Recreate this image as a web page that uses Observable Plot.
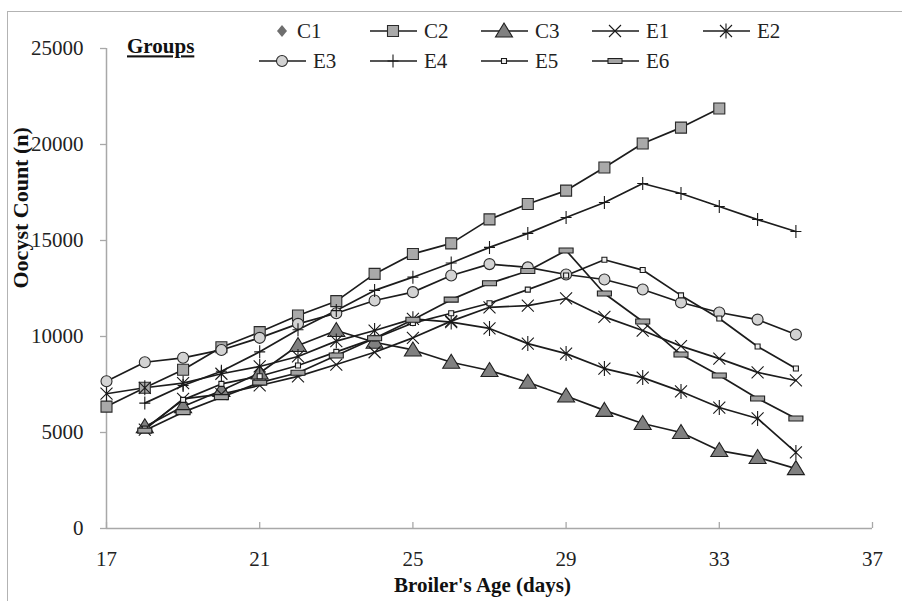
<!DOCTYPE html>
<html><head><meta charset="utf-8">
<script src="https://cdn.jsdelivr.net/npm/d3@7"></script>
<script src="https://cdn.jsdelivr.net/npm/@observablehq/plot@0.6"></script>
<style>
body{margin:0;background:#fff;}
#wrap{position:relative;width:902px;height:601px;font-family:"Liberation Serif","Times New Roman",serif;overflow:hidden;}
#border{position:absolute;left:7px;top:11px;width:1000px;height:700px;border-left:1.5px solid #b3b3b3;border-top:1.5px solid #b3b3b3;}
#chart{position:absolute;left:0;top:0;}
#legend{position:absolute;left:0;top:0;pointer-events:none;font-family:"Liberation Serif","Times New Roman",serif;}
</style></head><body>
<div id="wrap"><div id="border"></div><div id="chart"></div><svg id="legend" width="902" height="100"></svg></div>
<script>
// ---- data ----
const days   = [17,18,19,20,21,22,23,24,25,26,27,28,29,30,31,32,33,34,35];
const seriesNames = ["C1","C2","C3","E1","E2","E3","E4","E5","E6"];
const C1 = [];
const C2 = [6350,7330,8270,9440,10230,11090,11840,13260,14300,14850,16100,16900,17600,18800,20050,20880,21875,null,null];
const C3 = [null,5300,6350,7190,8100,9530,10310,9700,9300,8660,8230,7620,6900,6150,5470,5000,4060,3700,3120];
const E1 = [null,5150,6750,7000,7450,7920,8540,9180,9930,10800,11520,11610,11980,11020,10310,9500,8850,8130,7710];
const E2 = [7020,7330,7570,8060,8440,8960,9760,10310,10920,10750,10420,9630,9110,8330,7860,7140,6300,5730,3960];
const E3 = [7670,8660,8890,9300,9930,10660,11210,11875,12310,13180,13770,13600,13230,12970,12450,11770,11250,10880,10100];
const E4 = [null,6530,7450,8190,9200,10350,11350,12400,13090,13830,14640,15370,16200,16980,17970,17450,16770,16090,15470];
const E5 = [null,5200,6700,7530,7930,8490,9200,9900,10700,11210,11730,12440,13180,14000,13460,12140,10940,9480,8330];
const E6 = [null,5100,6060,6840,7600,8110,9010,9910,10870,11920,12770,13410,14480,12240,10780,9060,7970,6770,5730];
const xTicks = [17,21,25,29,33,37];
const yTicks = [0,5000,10000,15000,20000,25000];
const xTitle = "Broiler's Age (days)";
const yTitle = "Oocyst Count (n)";
const legendTitle = "Groups";

const valuesBy = {C1,C2,C3,E1,E2,E3,E4,E5,E6};
const rows = [];
for (const s of seriesNames) valuesBy[s].forEach((v,i)=>{ if (v!=null) rows.push({series:s, day:days[i], value:v}); });

// ---- marker styles ----
const sym = {
  C1:{draw(c){c.moveTo(0,-6);c.lineTo(5,0);c.lineTo(0,6);c.lineTo(-5,0);c.closePath();}},
  C2:{draw(c){c.rect(-5.5,-5.5,11,11);}},
  C3:{draw(c){c.moveTo(0,-8);c.lineTo(8.5,6);c.lineTo(-8.5,6);c.closePath();}},
  E1:{draw(c){c.moveTo(-6,-6);c.lineTo(6,6);c.moveTo(6,-6);c.lineTo(-6,6);}},
  E2:{draw(c){c.moveTo(-6,-6);c.lineTo(6,6);c.moveTo(6,-6);c.lineTo(-6,6);c.moveTo(0,-7.5);c.lineTo(0,7.5);}},
  E3:{draw(c){c.moveTo(5.5,0);c.arc(0,0,5.5,0,2*Math.PI);c.closePath();}},
  E4:{draw(c){c.moveTo(-5.5,0);c.lineTo(5.5,0);c.moveTo(0,-6.5);c.lineTo(0,6.5);}},
  E5:{draw(c){c.rect(-2.5,-2.5,5,5);}},
  E6:{draw(c){c.rect(-7,-2.5,14,5);}}
};
const fills = {C1:"#6e6e6e",C2:"#a9a9a9",C3:"#808080",E1:"none",E2:"none",E3:"#d3d3d3",E4:"none",E5:"#eeeeee",E6:"#a3a3a3"};
const strokes = {C1:"none",C2:"#2a2a2a",C3:"#1f1f1f",E1:"#1a1a1a",E2:"#1a1a1a",E3:"#2a2a2a",E4:"#1a1a1a",E5:"#1a1a1a",E6:"#1f1f1f"};
const lineColor = "#1c1c1c";
const axisColor = "#a8a8a8";

const marks = [
  Plot.ruleY([yTicks[0]], {stroke:axisColor, strokeWidth:1.5}),
  Plot.ruleX([xTicks[0]], {stroke:axisColor, strokeWidth:1.5}),
  Plot.axisY({ticks:yTicks, tickSize:6, tickPadding:17, stroke:axisColor, fill:"#222", label:null, tickFormat:d=>String(d), strokeWidth:1.3}),
  Plot.axisX({ticks:xTicks, tickSize:-6, tickPadding:29, stroke:axisColor, fill:"#222", label:null, tickFormat:d=>String(d), strokeWidth:1.3}),
];
for (const s of seriesNames) {
  const d = rows.filter(r=>r.series===s);
  if (!d.length) continue;
  marks.push(Plot.line(d, {x:"day", y:"value", stroke:lineColor, strokeWidth:1.7}));
}
for (const s of seriesNames) {
  const d = rows.filter(r=>r.series===s);
  if (!d.length) continue;
  marks.push(Plot.dot(d, {x:"day", y:"value", symbol:()=>sym[s], r:5, fill:fills[s], stroke:strokes[s], strokeWidth:1.1}));
}
marks.push(Plot.text([yTitle], {frameAnchor:"left", dx:-86, rotate:-90, fontWeight:"bold", fontSize:22, fill:"#111"}));
marks.push(Plot.text([xTitle], {frameAnchor:"bottom", dx:-7, dy:63, fontWeight:"bold", fontSize:21, fill:"#111"}));

const chart = Plot.plot({
  width:902, height:601,
  marginLeft:106, marginRight:30, marginTop:48, marginBottom:73,
  x:{domain:[17,37]},
  y:{domain:[0,25000]},
  symbol:{type:"identity"},
  style:{fontFamily:"'Liberation Serif','Times New Roman',serif", fontSize:"21px", background:"transparent", color:"#222"},
  marks
});
document.getElementById("chart").appendChild(chart);

// ---- legend (overlay) ----
const lg = d3.select("#legend");
lg.append("text").attr("x",127).attr("y",46).attr("dy","0.35em")
  .attr("font-weight","bold").attr("font-size",21).attr("fill","#111")
  .attr("text-decoration","underline").text(legendTitle);
const colX = [282,393,504,615,726];
const rowY = [31,61];
seriesNames.forEach((s,i)=>{
  const cx = colX[i<5 ? i : i-5], cy = rowY[i<5?0:1];
  const g = lg.append("g").attr("transform",`translate(${cx},${cy})`);
  if (s !== "C1") g.append("line").attr("x1",-23).attr("x2",24).attr("stroke",lineColor).attr("stroke-width",1.7);
  const p = d3.path(); sym[s].draw(p);
  g.append("path").attr("d",p.toString()).attr("fill",fills[s]).attr("stroke",strokes[s]).attr("stroke-width",1.1);
  g.append("text").attr("x",s==="C1"?15:31).attr("dy","0.35em").attr("font-size",21).attr("fill","#222").text(s);
});
</script>
</body></html>
